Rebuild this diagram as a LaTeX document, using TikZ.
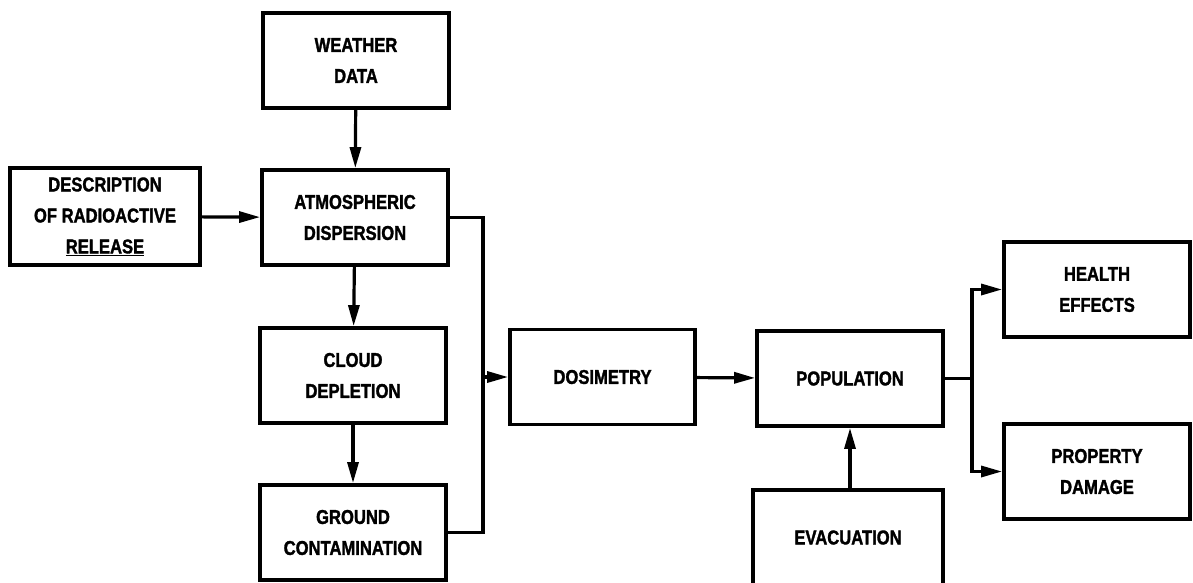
\documentclass[tikz,border=0pt]{standalone}
\usepackage{fontspec}
\newfontfamily\boxfont[FakeStretch=0.83,FakeBold=1.5]{Liberation Sans}
\usetikzlibrary{arrows.meta}
\tikzset{
  blk/.style={draw=black, line width=3.8pt, rectangle, minimum width=186pt, minimum height=95pt,
    align=center, inner sep=0pt, font=\boxfont\bfseries\fontsize{20}{31}\selectfont},
  conn/.style={draw=black, line width=3.2pt},
  arr/.style={conn, -{Triangle[length=21pt,width=11pt]}}
}
\begin{document}
\begin{tikzpicture}[x=1pt,y=-1pt]
\useasboundingbox[fill=white] (0,0) rectangle (1193,582);
\node[blk] (weather) at (356,60.5) {WEATHER\\DATA};
\node[blk, minimum width=190pt, minimum height=97pt] (desc) at (105,216.5) {DESCRIPTION\\OF RADIOACTIVE\\\underline{RELEASE}};
\node[blk] (atmos) at (355,217.5) {ATMOSPHERIC\\DISPERSION};
\node[blk] (cloud) at (353,375.5) {CLOUD\\DEPLETION};
\node[blk] (ground) at (353,532.5) {GROUND\\CONTAMINATION};
\node[blk, minimum width=185pt] (dosim) at (602.5,377) {DOSIMETRY};
\node[blk] (popul) at (850,378.5) {POPULATION};
\node[blk, minimum width=190pt] (evac) at (848,537.5) {EVACUATION};
\node[blk] (health) at (1097,289.5) {HEALTH\\EFFECTS};
\node[blk] (prop) at (1097,471.5) {PROPERTY\\DAMAGE};

\coordinate (jl) at (483,377);
\coordinate (jr) at (972,378.5);

\draw[arr] (weather) -- (atmos);
\draw[arr] (desc) -- (atmos);
\draw[arr] (atmos) -- (cloud);
\draw[arr] (cloud) -- (ground);
\draw[conn] (atmos.east) -| (jl) |- (ground.east);
\draw[arr] (jl) -- (dosim.west);
\draw[arr] (dosim) -- (popul);
\draw[arr] (evac.north -| popul.south) -- (popul.south);
\draw[conn] (popul.east) -- (jr);
\draw[arr] (jr) |- (health.west);
\draw[arr] (jr) |- (prop.west);
\end{tikzpicture}
\end{document}
